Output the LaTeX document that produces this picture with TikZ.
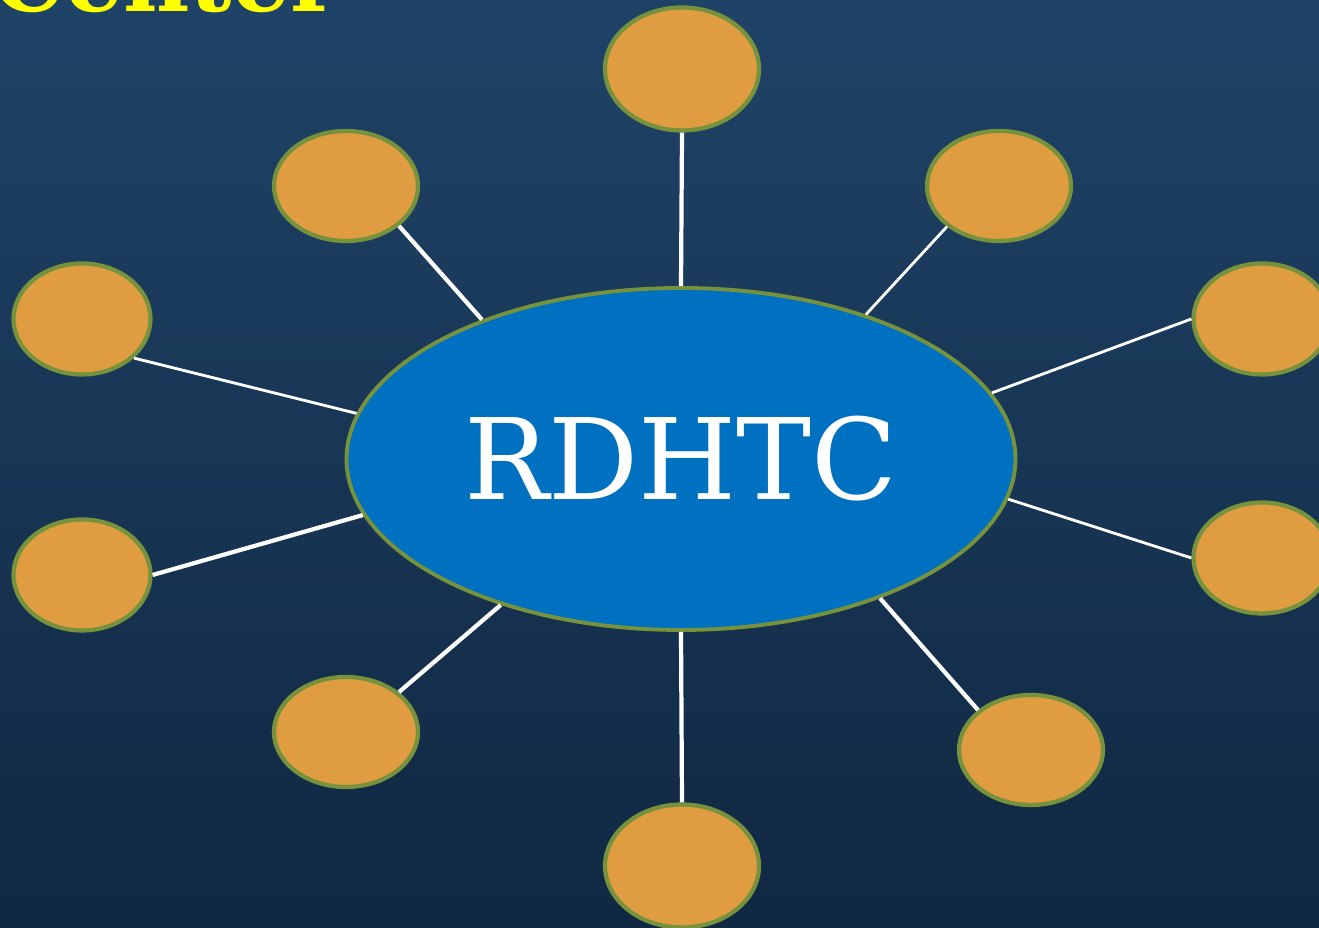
\documentclass[tikz,border=0pt]{standalone}
\usepackage{fontspec}
\usepackage{xcolor}
\usepackage{tikz}
\usetikzlibrary{shapes.geometric}
\newfontfamily\slabfont{DejaVu Serif}
\definecolor{bgtop}{RGB}{31,67,103}
\definecolor{bgbottom}{RGB}{16,40,66}
\definecolor{hubblue}{RGB}{0,112,192}
\definecolor{spokeorange}{RGB}{224,156,64}
\definecolor{rimgreen}{RGB}{118,146,60}
\definecolor{titleyellow}{RGB}{255,255,0}
\tikzset{
    hub/.style={ellipse, draw=rimgreen, line width=1.1pt, fill=hubblue, inner sep=0pt, minimum width=6.69cm, minimum height=3.42cm, text=white, font=\slabfont\fontsize{32}{36}\selectfont},
    spoke/.style={ellipse, draw=rimgreen, line width=1.2pt, fill=spokeorange, inner sep=0pt, minimum width=1.44cm, minimum height=1.1cm},
    bigspoke/.style={spoke, minimum width=1.54cm, minimum height=1.23cm},
    sidespoke/.style={spoke, minimum width=1.37cm, minimum height=1.11cm},
    link/.style={draw=white, line width=0.8pt},
    thicklink/.style={draw=white, line width=1.2pt}
}

\begin{document}
\begin{tikzpicture}
    % Background
    \clip (0,0) rectangle (13.19,9.28);
    \shade[top color=bgtop, bottom color=bgbottom] (0,0) rectangle (13.19,9.28);

    % Title, mostly cut off
    \node[anchor=base west, inner sep=0pt, text=titleyellow, font=\slabfont\bfseries\fontsize{26}{30}\selectfont] (title) at (-0.08,9.16) {Center};

    % Hub
    \node[hub] (hub) at (6.81,4.69) {RDHTC};

    % Spokes
    \node[bigspoke] (top) at (6.82,8.59) {};
    \node[spoke] (topleft) at (3.46,7.42) {};
    \node[spoke] (topright) at (9.99,7.42) {};
    \node[sidespoke] (leftup) at (0.82,6.09) {};
    \node[sidespoke] (rightup) at (12.62,6.09) {};
    \node[sidespoke] (leftdown) at (0.82,3.53) {};
    \node[sidespoke] (rightdown) at (12.62,3.70) {};
    \node[spoke] (bottomleft) at (3.46,1.96) {};
    \node[spoke] (bottomright) at (10.31,1.78) {};
    \node[bigspoke] (bottom) at (6.82,0.62) {};

    % Links
    \draw[thicklink] (top.south) -- (hub.north);
    \draw[thicklink] (topleft.-37) -- (hub.145.5);
    \draw[link] (topright.-142) -- (hub.38.7);
    \draw[link] (leftup.-37.6) -- (hub.172.7);
    \draw[link] (rightup.west) -- (hub.12);
    \draw[thicklink] (leftdown.east) -- (hub.-170.4);
    \draw[link] (rightdown.west) -- (hub.-7.9);
    \draw[thicklink] (bottomleft.37.6) -- (hub.-141.4);
    \draw[thicklink] (bottomright.143.3) -- (hub.-35.5);
    \draw[thicklink] (bottom.north) -- (hub.south);
\end{tikzpicture}
\end{document}
